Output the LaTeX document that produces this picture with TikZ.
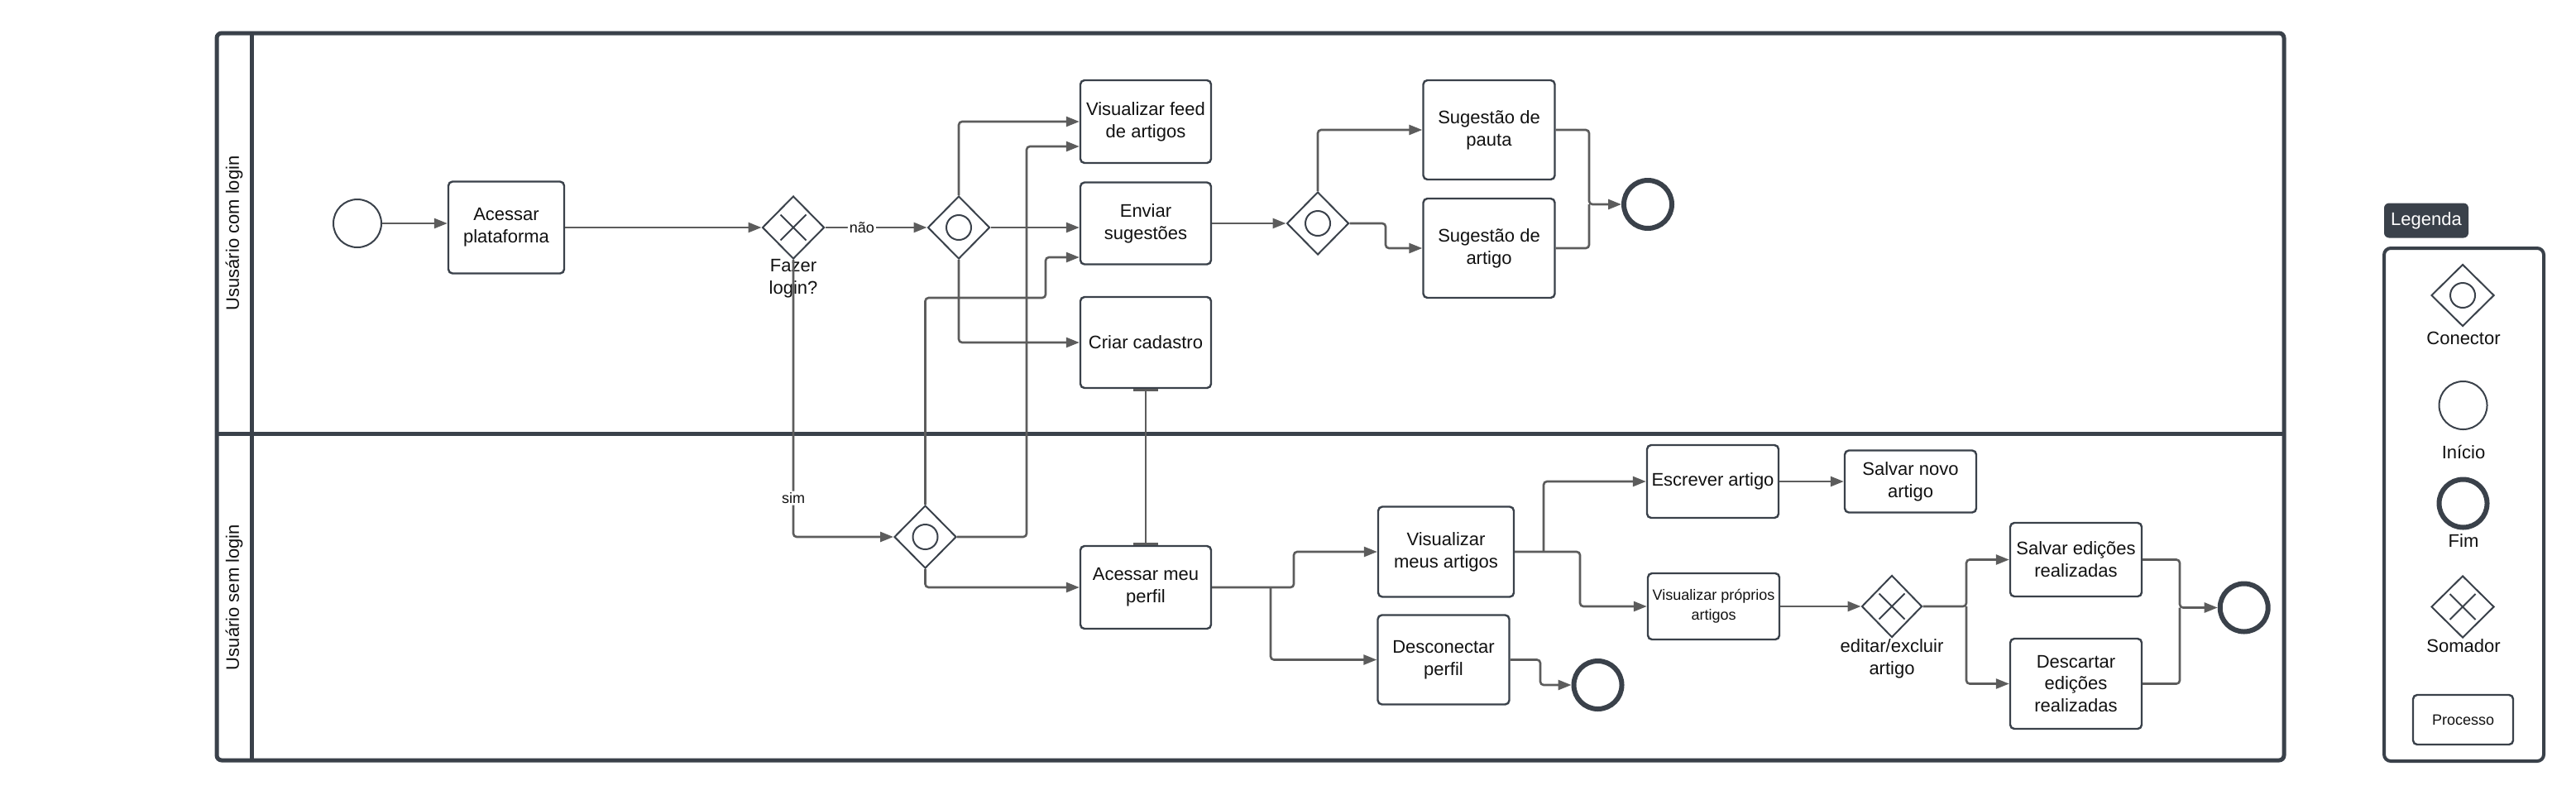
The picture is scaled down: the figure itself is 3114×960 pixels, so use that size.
\documentclass[tikz,border=0pt]{standalone}
\usepackage{fontspec}
\setmainfont{Liberation Sans}
\usetikzlibrary{shapes.geometric,arrows.meta}
\definecolor{frame}{HTML}{3A414A}
\definecolor{conn}{HTML}{5C5C5C}
\definecolor{txt}{HTML}{111111}
\begin{document}
\begin{tikzpicture}[x=0.5pt,y=-0.5pt,
 every node/.style={font=\fontsize{11}{13.4}\selectfont, text=txt},
 proc/.style={draw=frame, line width=1.2pt, rounded corners=2.5pt, align=center, inner sep=2pt, fill=white},
 gwbase/.style={diamond, draw=frame, line width=1pt, minimum width=37.5pt, minimum height=38pt, inner sep=0pt, fill=white},
 cgw/.style={gwbase, path picture={\draw[frame, line width=1pt] (path picture bounding box.center) circle[radius=7.5pt];}},
 xgw/.style={gwbase, path picture={\draw[frame, line width=1pt]
   ([shift={(-7.75pt,-7.75pt)}]path picture bounding box.center) -- ([shift={(7.75pt,7.75pt)}]path picture bounding box.center)
   ([shift={(-7.75pt,7.75pt)}]path picture bounding box.center) -- ([shift={(7.75pt,-7.75pt)}]path picture bounding box.center);}},
 startev/.style={circle, draw=frame, line width=1pt, minimum size=29pt, inner sep=0pt, fill=white},
 endev/.style={circle, draw=frame, line width=3pt, minimum size=29pt, inner sep=0pt, fill=white},
 flow/.style={draw=conn, line width=1.3pt, rounded corners=2pt, -{Triangle[length=8pt,width=6pt]}},
 link/.style={draw=conn, line width=1.3pt, rounded corners=2pt},
 lbl/.style={font=\fontsize{9}{11}\selectfont, fill=white, inner sep=1pt, text=txt},
 small/.style={font=\fontsize{9}{12}\selectfont},
 lane/.style={draw=frame, line width=2.5pt},
 ]
\useasboundingbox (0,0) rectangle (3114,960);
\fill[white] (0,0) rectangle (3114,960);

% swimlanes
\draw[lane, rounded corners=3pt] (262,40) rectangle (2761,919);
\draw[lane] (262,524) -- (2761,524);
\draw[lane] (304,40) -- (304,919);
\node[rotate=90] (lane1) at (283,282) {Ususário com login};
\node[rotate=90] (lane2) at (283,722) {Usuário sem login};

% lane 1
\node[startev] (start) at (432,270) {};
\node[proc, minimum width=70pt, minimum height=55.5pt] (acessar) at (612,275) {Acessar\\plataforma};
\node[xgw] (xgw1) at (959,275) {};
\node[align=center] (fazer) at (959,337) {Fazer\\login?};
\node[cgw] (c1) at (1159,275) {};
\node[proc, minimum width=79pt, minimum height=50pt] (feed) at (1385,147) {Visualizar feed\\de artigos};
\node[proc, minimum width=79pt, minimum height=49.5pt] (enviar) at (1385,270) {Enviar\\sugestões};
\node[proc, minimum width=79pt, minimum height=55pt] (criar) at (1385,414) {Criar cadastro};
\node[cgw] (c2) at (1593,270) {};
\node[proc, minimum width=79.5pt, minimum height=60pt] (pauta) at (1800,157) {Sugestão de\\pauta};
\node[proc, minimum width=79.5pt, minimum height=60pt] (artigo) at (1800,300) {Sugestão de\\artigo};
\node[endev] (end1) at (1992,247) {};

% lane 2
\node[cgw] (c3) at (1118.5,649) {};
\node[proc, minimum width=79pt, minimum height=50pt] (perfil) at (1385,710) {Acessar meu\\perfil};
\node[proc, minimum width=82pt, minimum height=54.5pt] (vma) at (1748,667) {Visualizar\\meus artigos};
\node[proc, minimum width=79.5pt, minimum height=54pt] (desc) at (1745,797.5) {Desconectar\\perfil};
\node[endev] (end2) at (1931.5,828) {};
\node[proc, minimum width=79.5pt, minimum height=44pt] (escrever) at (2070.5,582) {Escrever artigo};
\node[proc, minimum width=79.5pt, minimum height=37.5pt] (salvarnovo) at (2309.5,582) {Salvar novo\\artigo};
\node[proc, small, minimum width=79.5pt, minimum height=40pt] (vpa) at (2071.5,733) {Visualizar próprios\\artigos};
\node[xgw, minimum width=36.5pt, minimum height=37.5pt] (xgw2) at (2287,733) {};
\node[align=center] (editar) at (2287,796.5) {editar/excluir\\artigo};
\node[proc, minimum width=79.5pt, minimum height=44.5pt] (salvared) at (2509.5,676.5) {Salvar edições\\realizadas};
\node[proc, minimum width=79.5pt, minimum height=54.5pt] (descartar) at (2509.5,826.5) {Descartar\\edições\\realizadas};
\node[endev] (end3) at (2712.7,734.5) {};

% branch points
\coordinate (b1) at (1536,710);
\coordinate (b2) at (1866,667);
\coordinate (b3) at (2377,733);

% connectors lane 1
\draw[flow] (start) -- (acessar.west |- start);
\draw[flow] (acessar) -- (xgw1);
\draw[flow] (xgw1) -- node[lbl, pos=0.36] (nao) {não} (c1);
\draw[flow] (c1.north) |- (feed.west);
\draw[flow] (c1) -- (c1 -| enviar.west);
\draw[flow] (c1.south) |- (criar.west);
\draw[flow] (enviar) -- (c2);
\draw[flow] (c2.north) |- (pauta.west);
\draw[flow] (c2.east) -- (1675,270) |- (artigo.west);
\draw[flow] (pauta.east) -| (1921,247) -- (end1.west);
\draw[link] (artigo.east) -| (1921,247);

% cross-lane connectors
\draw[flow] (xgw1.south) |- node[lbl, pos=0.43] (sim) {sim} (c3.west);
\draw[flow] (c3.north) |- (1264,360) |- (enviar.west |- 0,311);
\draw[flow] (c3.east) -| (1241,177) -- (feed.west |- 0,177);
\draw[link, {Bar[width=15pt,line width=1.5pt]}-{Bar[width=15pt,line width=1.5pt]}] (criar.south) -- (perfil.north);

% connectors lane 2
\draw[flow] (c3.south) |- (perfil.west);
\draw[flow] (perfil.east) -- (1564,710) |- (vma.west);
\draw[flow] (b1) |- (desc.west);
\draw[flow] (vma.east) -- (1910,667) |- (vpa.west);
\draw[flow] (b2) |- (escrever.west);
\draw[flow] (escrever) -- (salvarnovo);
\draw[flow] (desc.east) -| (1862,828) -- (end2.west);
\draw[flow] (vpa) -- (xgw2);
\draw[flow] (xgw2.east) -- (2377,733) |- (salvared.west);
\draw[flow] (b3) |- (descartar.west);
\draw[flow] (salvared.east) -| (2635,734.5) -- (end3.west);
\draw[link] (descartar.east) -| (2635,734.5);

% legend
\node[fill=frame, text=white, rounded corners=3pt, minimum width=51pt, minimum height=21pt, inner sep=0pt] (legtag) at (2933,266.5) {Legenda};
\draw[draw=frame, line width=2pt, rounded corners=4pt] (2882,300) rectangle (3075,920);
\node[cgw, minimum width=38pt, minimum height=37.5pt] (lconn) at (2977,357) {};
\node (lconnt) at (2978,409) {Conector};
\node[startev] (lstart) at (2977.5,490) {};
\node (lstartt) at (2978,546) {Início};
\node[endev] (lend) at (2977.5,608.5) {};
\node (lendt) at (2978,654) {Fim};
\node[xgw, minimum width=38pt, minimum height=37.5pt] (lsom) at (2977,733.5) {};
\node (lsomt) at (2978,781) {Somador};
\node[proc, small, minimum width=60.5pt, minimum height=30pt] (lproc) at (2977.5,870) {Processo};
\end{tikzpicture}
\end{document}
